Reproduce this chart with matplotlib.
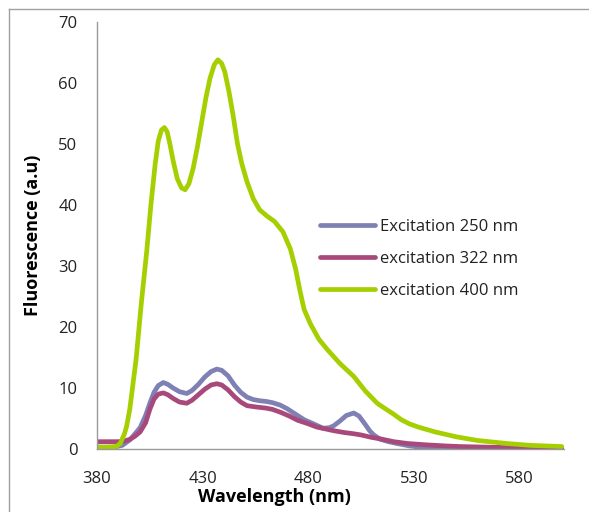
import numpy as np
import matplotlib
matplotlib.use("Agg")
import matplotlib.pyplot as plt
from matplotlib.lines import Line2D

plt.rcParams['font.family'] = ['Open Sans', 'DejaVu Sans']

# excitation 250 nm
wl_250 = [380, 388, 392, 395.6, 398, 400.4, 403, 405, 407, 409, 411.4, 413.5, 416, 419,
          422.5, 425, 428, 431, 434, 436.7, 439, 442, 445, 448, 451, 454, 457.2, 460,
          463, 466.7, 470, 474, 478, 482, 487, 490, 492, 495, 498, 501.5, 504, 507,
          509, 511, 514, 518, 522, 528, 535, 545, 560, 600]
fl_250 = [0.3, 0.3, 0.6, 1.5, 2.5, 3.5, 5.5, 7.5, 9.3, 10.4, 10.9, 10.6, 10.0, 9.4,
          9.1, 9.6, 10.6, 11.8, 12.7, 13.1, 12.9, 12.0, 10.5, 9.3, 8.5, 8.1, 7.9, 7.8,
          7.6, 7.2, 6.6, 5.7, 4.8, 4.2, 3.4, 3.5, 3.8, 4.6, 5.5, 5.9, 5.4, 4.0,
          3.0, 2.3, 1.6, 1.2, 0.9, 0.5, 0.2, 0.1, 0.05, 0.05]

# excitation 322 nm
wl_322 = [380, 390, 393, 395.6, 398, 400.4, 403, 405, 407, 409, 411.4, 413.5, 416, 419,
          422.5, 425, 428, 431, 434, 436.7, 439, 442, 445, 448, 451, 455, 460, 463,
          467, 471, 475, 479.4, 484, 488, 492, 497, 501.5, 505, 510, 515, 520.4, 527,
          535, 545, 552, 565, 580, 600]
fl_322 = [1.2, 1.2, 1.3, 1.6, 2.1, 2.8, 4.3, 6.5, 8.2, 9.0, 9.2, 8.9, 8.3, 7.7,
          7.5, 8.0, 8.9, 9.8, 10.5, 10.7, 10.5, 9.7, 8.6, 7.7, 7.1, 6.9, 6.7, 6.5,
          6.0, 5.4, 4.7, 4.2, 3.6, 3.3, 3.0, 2.7, 2.5, 2.3, 1.9, 1.6, 1.2, 0.9,
          0.7, 0.5, 0.4, 0.3, 0.2, 0.2]

# excitation 400 nm
wl_400 = [380, 385, 389, 391, 393, 394, 395.5, 396.5, 398.5, 401, 403.5, 405.5, 407.5,
          409, 410.5, 411.9, 413.2, 414.5, 416, 418, 420, 421.7, 423.5, 425.5, 427.5,
          429.5, 431.5, 433.5, 435.5, 437.2, 439, 440.5, 442.5, 444.5, 446.5, 448.5,
          451, 454, 457, 460.4, 464, 468, 471.5, 474, 476, 478, 481, 485, 489, 495,
          501.5, 507, 512.6, 516, 520, 524, 528, 532, 540, 550, 560, 574, 585, 600]
fl_400 = [0.3, 0.3, 0.4, 0.9, 2.5, 3.7, 6.5, 9.2, 14.7, 24.0, 32.3, 40.0, 46.6,
          50.5, 52.3, 52.7, 52.0, 50.0, 47.3, 44.3, 42.8, 42.5, 43.5, 46.0, 49.5,
          53.5, 57.5, 60.8, 63.0, 63.8, 63.2, 61.8, 58.5, 54.5, 50.0, 46.8,
          43.8, 41.0, 39.2, 38.2, 37.3, 35.6, 32.8, 29.5, 26.0, 22.9, 20.5, 18.0, 16.3, 14.0,
          11.9, 9.5, 7.5, 6.7, 5.8, 4.8, 4.1, 3.6, 2.8, 2.0, 1.4, 0.9, 0.6, 0.4]

labels = ['Excitation 250 nm', 'excitation 322 nm', 'excitation 400 nm']
colors = ['#7f80b3', '#a8497c', '#a6cf02']
x_ticks = [380, 430, 480, 530, 580]

fig = plt.figure(figsize=(5.89, 5.12), dpi=100)
ax = fig.add_axes([97/589, 1 - 449/512, (564 - 97)/589, (449 - 22)/512])

for wl, fl, lab, c in zip([wl_250, wl_322, wl_400], [fl_250, fl_322, fl_400], labels, colors):
    ax.plot(wl, fl, color=c, lw=3.4, label=lab, solid_capstyle='round', solid_joinstyle='round')

ax.set_xlim(380, 601)
ax.set_ylim(0, 70)
ax.set_xticks(x_ticks)
ax.set_yticks(range(0, 71, 10))
ax.tick_params(length=0, labelsize=12, colors='#222222')
ax.tick_params(axis='y', pad=14)
ax.tick_params(axis='x', pad=16)
for s in ['top', 'right']:
    ax.spines[s].set_visible(False)
for s in ['left', 'bottom']:
    ax.spines[s].set_color('#999999')
    ax.spines[s].set_linewidth(1)

fig.text(274/589, 1 - 502/512, 'Wavelength (nm)', fontsize=13, fontweight='bold',
         ha='center', va='baseline')
fig.text(33/589, 1 - 235/512, 'Fluorescence (a.u)', fontsize=13, fontweight='bold',
         ha='center', va='center', rotation=90)

leg = ax.legend(loc='upper left', bbox_to_anchor=(320/589, 1 - 219/512),
                bbox_transform=fig.transFigure, frameon=False, fontsize=12,
                handlelength=3.3, handletextpad=0.3, labelspacing=0.96, borderpad=0,
                borderaxespad=0)
for t in leg.get_texts():
    t.set_color('#222222')

# chart area border (top and left visible)
fig.add_artist(Line2D([9/589, 1], [1 - 9/512, 1 - 9/512], transform=fig.transFigure,
                      color='#a0a0a0', lw=1))
fig.add_artist(Line2D([9/589, 9/589], [0, 1 - 9/512], transform=fig.transFigure,
                      color='#a0a0a0', lw=1))

fig.savefig('out.png', dpi=100)
